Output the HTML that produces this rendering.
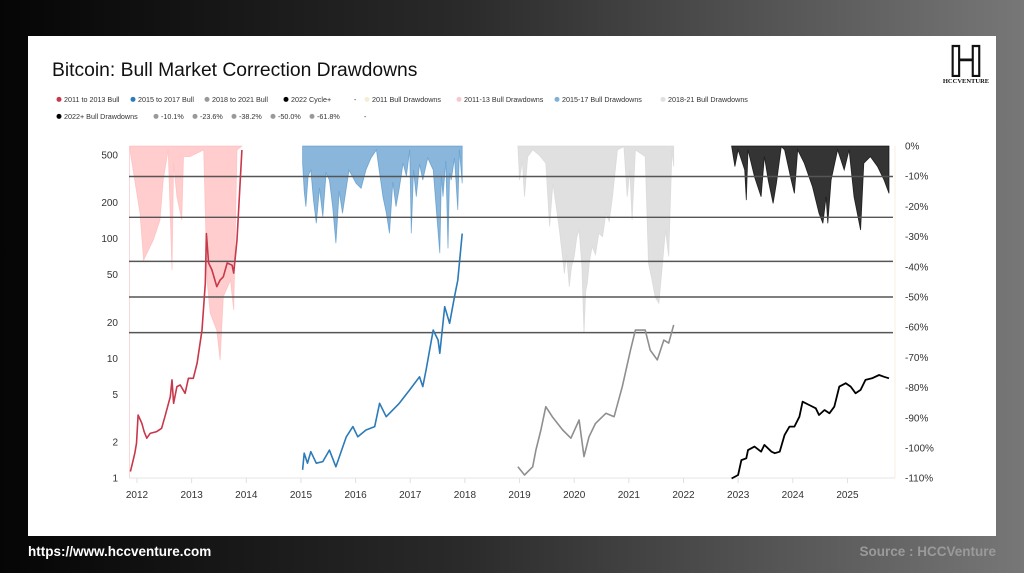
<!DOCTYPE html>
<html><head><meta charset="utf-8">
<style>
html,body{margin:0;padding:0;width:1024px;height:573px;overflow:hidden;font-family:"Liberation Sans",sans-serif;}
body{background:linear-gradient(to right,#050505 0%,#2a2a2a 45%,#777 100%);position:relative;}
#card{position:absolute;left:28px;top:36px;width:968px;height:500px;background:#fff;}
#foot-l{position:absolute;left:28px;top:544px;color:#fff;font-weight:bold;font-size:13.5px;}
#foot-r{position:absolute;right:28px;top:544px;color:#9a9a9a;font-weight:bold;font-size:13.5px;}
svg{position:absolute;left:0;top:0;}
</style></head>
<body>
<div id="card"></div>
<svg id="chart" width="1024" height="573"></svg>
<div id="foot-l">https://www.hccventure.com</div>
<div id="foot-r">Source : HCCVenture</div>
<script>
// ---- data ----
const yearTicks = [2012,2013,2014,2015,2016,2017,2018,2019,2020,2021,2022,2023,2024,2025];
const priceTicks = [1,2,5,10,20,50,100,200,500];
const pctTicks = [0,-10,-20,-30,-40,-50,-60,-70,-80,-90,-100,-110];
const fibLevels = [-10.1,-23.6,-38.2,-50.0,-61.8];

const redYears = [2011.88,2011.93,2011.96,2011.99,2012.02,2012.09,2012.13,2012.18,2012.24,2012.36,2012.45,2012.51,2012.61,2012.64,2012.67,2012.73,2012.79,2012.88,2012.94,2013.03,2013.10,2013.19,2013.25,2013.27,2013.31,2013.37,2013.46,2013.52,2013.58,2013.65,2013.74,2013.77,2013.83,2013.92];
const redPrice = [1.13,1.41,1.61,1.95,3.36,2.86,2.44,2.15,2.36,2.44,2.60,3.25,4.78,6.6,4.21,5.8,5.98,5.1,6.8,6.8,9.1,17.2,42.3,110,62.5,54.8,39.7,45,48,62.5,60,51.5,97.5,550];
const redDDYears = [2011.87,2012.055,2012.12,2012.21,2012.30,2012.42,2012.48,2012.57,2012.64,2012.67,2012.73,2012.82,2012.85,2012.97,2013.22,2013.28,2013.34,2013.46,2013.52,2013.58,2013.71,2013.77,2013.83,2013.92];
const redDD = [-1.3,-22.3,-37.8,-34.4,-31.1,-24.5,-11.3,-1.3,-41.1,-5.7,-16.8,-24.5,-3.5,-3.5,-1.3,-44.4,-55.4,-61,-70.9,-49.9,-44.4,-54.3,-1.3,0];

const blueYears = [2015.03,2015.06,2015.12,2015.18,2015.28,2015.40,2015.52,2015.64,2015.83,2015.95,2016.04,2016.19,2016.35,2016.44,2016.56,2016.80,2016.99,2017.17,2017.23,2017.29,2017.42,2017.51,2017.54,2017.63,2017.72,2017.81,2017.87,2017.95];
const bluePrice = [1.17,1.61,1.33,1.66,1.33,1.37,1.71,1.24,2.21,2.69,2.21,2.52,2.69,4.21,3.25,4.21,5.44,7.0,5.8,8.0,17.2,14.2,11.0,27,19.6,32.7,45,110];
const blueDDYears = [2015.03,2015.06,2015.09,2015.13,2015.18,2015.23,2015.28,2015.34,2015.40,2015.46,2015.52,2015.58,2015.64,2015.70,2015.76,2015.88,2016.01,2016.10,2016.19,2016.28,2016.38,2016.44,2016.50,2016.56,2016.62,2016.68,2016.74,2016.80,2016.87,2016.93,2016.99,2017.02,2017.06,2017.11,2017.17,2017.23,2017.32,2017.42,2017.48,2017.54,2017.57,2017.60,2017.65,2017.69,2017.72,2017.75,2017.81,2017.87,2017.90,2017.95];
const blueDD = [-5.7,-15,-20.1,-10,-7.9,-18,-25.6,-14,-23.4,-9,-11.3,-20,-32.2,-15,-22.3,-8,-12.4,-14,-7.9,-4,-1.3,-9,-16.8,-22,-28.9,-12,-20.1,-14,-5.7,-10,-1.3,-28.9,-8,-16.8,-6,-11.3,-4,-7.9,-22,-35.5,-10,-16.8,-5,-33.9,-9,-11.3,-4,-21.2,-1.3,-12.4];

const greyYears = [2018.97,2019.09,2019.24,2019.30,2019.39,2019.48,2019.60,2019.79,2019.94,2020.09,2020.18,2020.27,2020.39,2020.58,2020.73,2020.88,2021.03,2021.12,2021.30,2021.39,2021.52,2021.64,2021.73,2021.82];
const greyPrice = [1.24,1.06,1.24,1.71,2.52,3.94,3.25,2.52,2.15,3.05,1.51,2.21,2.86,3.47,3.25,5.8,11.7,17.2,17.2,11.7,9.7,14.2,13.4,19.0];
const greyDDYears = [2018.97,2019.0,2019.05,2019.09,2019.15,2019.24,2019.36,2019.48,2019.55,2019.61,2019.67,2019.73,2019.82,2019.86,2019.91,2019.95,2020.0,2020.05,2020.09,2020.14,2020.18,2020.21,2020.24,2020.28,2020.33,2020.39,2020.45,2020.52,2020.58,2020.64,2020.7,2020.79,2020.91,2020.97,2021.02,2021.06,2021.12,2021.3,2021.36,2021.42,2021.48,2021.55,2021.61,2021.67,2021.73,2021.79,2021.82];
const greyDD = [0,-11.3,-5,-16.8,-3.5,-1.3,-3,-5.7,-26.7,-12.4,-20,-27.8,-42.2,-36,-46.6,-40,-36.6,-30,-27.8,-40,-62,-48,-45.5,-38,-33.3,-36,-28.9,-30,-22.3,-25,-16.8,-1.3,-0.2,-16.8,-8,-24.5,-1.3,-3.5,-38.9,-44,-50,-52.1,-40,-27.8,-36.6,-1.3,-6.8];

const blackYears = [2022.88,2023.0,2023.06,2023.15,2023.18,2023.3,2023.42,2023.48,2023.61,2023.67,2023.76,2023.85,2023.94,2024.03,2024.12,2024.18,2024.3,2024.42,2024.48,2024.58,2024.67,2024.76,2024.85,2024.97,2025.06,2025.15,2025.24,2025.33,2025.45,2025.58,2025.67,2025.76];
const blackPrice = [0.99,1.06,1.41,1.46,1.71,1.83,1.66,1.89,1.66,1.61,1.66,2.29,2.69,2.69,3.25,4.34,4.07,3.82,3.36,3.70,3.47,3.94,5.8,6.19,5.8,5.1,5.44,6.6,6.8,7.25,7.0,6.8];
const blackDDYears = [2022.88,2022.94,2023.0,2023.12,2023.15,2023.18,2023.3,2023.42,2023.48,2023.55,2023.64,2023.7,2023.79,2023.85,2023.97,2024.03,2024.09,2024.21,2024.36,2024.48,2024.55,2024.61,2024.64,2024.7,2024.82,2024.94,2025.03,2025.12,2025.18,2025.24,2025.3,2025.42,2025.55,2025.67,2025.76];
const blackDD = [0,-6.8,-1.3,-7.9,-17.9,-1.3,-10.2,-16.8,-3.5,-11.3,-19,-12.4,-0.2,-1.3,-11.3,-15.7,-1.3,-5.7,-13.5,-22.3,-25.6,-16.8,-25.6,-11.3,-1.3,-7.9,-1.3,-16.8,-22.3,-27.8,-5.7,-3.5,-6.8,-11.3,-15.7];

// ---- scales ----
const X0=137, PXY=54.65;
const xS = y => X0 + (y-2012)*PXY;
const yP = v => 478 - 119.7*Math.log10(v);
const yD = p => 146 - p*3.02;

const svg = document.getElementById('chart');
const NS='http://www.w3.org/2000/svg';
function mk(tag, attrs, parent){const e=document.createElementNS(NS,tag);for(const k in attrs)e.setAttribute(k,attrs[k]);(parent||svg).appendChild(e);return e;}

// title
let t = mk('text',{x:52,y:76,'font-size':19.3,fill:'#111'});
t.textContent='Bitcoin: Bull Market Correction Drawdowns';



// logo
const lg = mk('g',{});


let l1 = mk('text',{x:966,y:77,'font-size':44,'font-family':'Liberation Serif, serif','text-anchor':'middle',fill:'#111'},lg);
l1.textContent='ℍ';
let l2 = mk('text',{x:966,y:83,'font-size':6.5,'font-family':'Liberation Serif, serif','text-anchor':'middle',fill:'#111','font-weight':'bold'},lg);
l2.textContent='HCCVENTURE';

// legend
const leg1 = [[59,'#c8374a','2011 to 2013 Bull'],[133,'#2b7bb9','2015 to 2017 Bull'],[207,'#999','2018 to 2021 Bull'],[286,'#000','2022 Cycle+'],[354,null,'-'],[367,'#f7ecd6','2011 Bull Drawdowns'],[459,'#f9c8cc','2011-13 Bull Drawdowns'],[557,'#7fb0d8','2015-17 Bull Drawdowns'],[663,'#e0e0e0','2018-21 Bull Drawdowns']];
const leg2 = [[59,'#000','2022+ Bull Drawdowns'],[156,'#999','-10.1%'],[195,'#999','-23.6%'],[234,'#999','-38.2%'],[273,'#999','-50.0%'],[312,'#999','-61.8%'],[364,null,'-']];
function legRow(items,y){
  items.forEach(([x,c,label])=>{
    const g=mk('g',{});
    
    
    if(c){mk('circle',{cx:x,cy:y-2.6,r:2.5,fill:c},g);}
    const tx=mk('text',{x:c?x+5:x,y:y,'font-size':7.2,fill:'#333'},g);
    tx.textContent=label;
  });
}
legRow(leg1,102); legRow(leg2,119);

// axes lines
mk('line',{x1:129,y1:478,x2:895,y2:478,stroke:'#e6e6e6','stroke-width':1});
let ra=mk('line',{x1:895,y1:146,x2:895,y2:478,stroke:'#f6efdf','stroke-width':1});


mk('line',{x1:129.5,y1:146,x2:129.5,y2:478,stroke:'#f8d8dc','stroke-width':1});

yearTicks.forEach(yr=>{
  const x=xS(yr);
  mk('line',{x1:x,y1:478,x2:x,y2:483,stroke:'#e0e0e0'});
  const tx=mk('text',{x:x,y:498,'font-size':10,fill:'#333','text-anchor':'middle'});
  tx.textContent=yr;
  
  
});
priceTicks.forEach(v=>{
  const tx=mk('text',{x:118,y:yP(v)+3.5,'font-size':10,fill:'#333','text-anchor':'end'});
  tx.textContent=v;
  
  
});
pctTicks.forEach(p=>{
  const tx=mk('text',{x:905,y:yD(p)+3.5,'font-size':10,fill:'#333'});
  tx.textContent=p+'%';
  
  
});

// drawdown areas
function area(xs,vs,fill,op,name){
  let d='M'+xS(xs[0]).toFixed(1)+','+yD(0);
  xs.forEach((x,i)=>{d+=' L'+xS(x).toFixed(1)+','+yD(vs[i]).toFixed(1);});
  d+=' L'+xS(xs[xs.length-1]).toFixed(1)+','+yD(0)+' Z';
  const p=mk('path',{d:d,fill:fill,'fill-opacity':op,stroke:fill,'stroke-opacity':op,'stroke-width':0.8});
  
  
}
area(redDDYears,redDD,'#ffb8b8',0.7,'drawdown-2011-13');
area(blueDDYears,blueDD,'#4a8fc6',0.65,'drawdown-2015-17');
area(greyDDYears,greyDD,'#d6d6d6',0.75,'drawdown-2018-21');
area(blackDDYears,blackDD,'#111',0.85,'drawdown-2022');

// fib lines
fibLevels.forEach(p=>{
  const l=mk('line',{x1:129,y1:yD(p),x2:893,y2:yD(p),stroke:'#555','stroke-width':1.4});
  
  
});

// price lines
function line(xs,vs,c,w,name){
  const pts=xs.map((x,i)=>xS(x).toFixed(1)+','+yP(vs[i]).toFixed(1)).join(' ');
  const p=mk('polyline',{points:pts,fill:'none',stroke:c,'stroke-width':w,'stroke-linejoin':'round'});
  
  
}
line(redYears,redPrice,'#c8374a',1.6,'price-2011-2013');
line(blueYears,bluePrice,'#2b7bb9',1.6,'price-2015-2017');
line(greyYears,greyPrice,'#8f8f8f',1.6,'price-2018-2021');
line(blackYears,blackPrice,'#000',1.8,'price-2022-cycle');
</script>
</body></html>
